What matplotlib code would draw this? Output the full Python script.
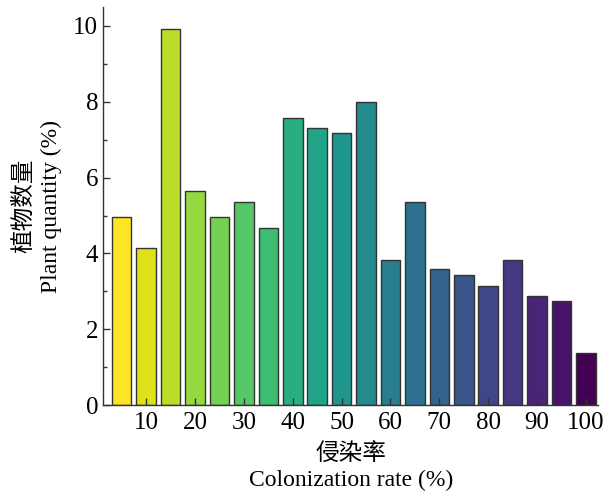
import numpy as np
import matplotlib
matplotlib.use('Agg')
import matplotlib.pyplot as plt
from matplotlib.ticker import MultipleLocator

plt.rcParams['font.family'] = ['Liberation Serif', 'Noto Sans CJK SC']

# colonization rate classes (%) and share of plants (%)
rates = [5, 10, 15, 20, 25, 30, 35, 40, 45, 50, 55, 60, 65, 70, 75, 80, 85, 90, 95, 100]
quantity = [4.97, 4.15, 9.92, 5.66, 4.97, 5.37, 4.68, 7.57, 7.30, 7.17,
            7.99, 3.84, 5.37, 3.60, 3.44, 3.15, 3.84, 2.88, 2.75, 1.38]
xticks = [10, 20, 30, 40, 50, 60, 70, 80, 90, 100]

colors = plt.cm.viridis_r(np.linspace(0, 1, len(rates)))

fig = plt.figure(figsize=(6.03, 4.99), dpi=100)
ax = fig.add_axes([0.171, 0.188, 0.821, 0.798])

ax.bar(rates, quantity, width=4, color=colors, edgecolor='#333333', linewidth=1)

ax.set_xlim(1.2, 102.5)
ax.set_ylim(0, 10.5)
ax.set_xticks(xticks)
ax.yaxis.set_major_locator(MultipleLocator(2))
ax.yaxis.set_minor_locator(MultipleLocator(1))
ax.tick_params(axis='both', which='major', direction='in', length=5, width=1,
               labelsize=18, color='#333333')
ax.tick_params(axis='x', which='major', pad=5)
ax.tick_params(axis='y', which='minor', direction='in', length=3, width=1, color='#333333')

for s in ['top', 'right']:
    ax.spines[s].set_visible(False)
for s in ['left', 'bottom']:
    ax.spines[s].set_color('#333333')
    ax.spines[s].set_linewidth(1)

ax.set_xlabel('侵染率\nColonization rate (%)', fontsize=17, linespacing=1.35, labelpad=6)
ax.set_ylabel('植物数量\nPlant quantity (%)', fontsize=17, linespacing=1.35, labelpad=8)

fig.savefig('out.png', dpi=100)
